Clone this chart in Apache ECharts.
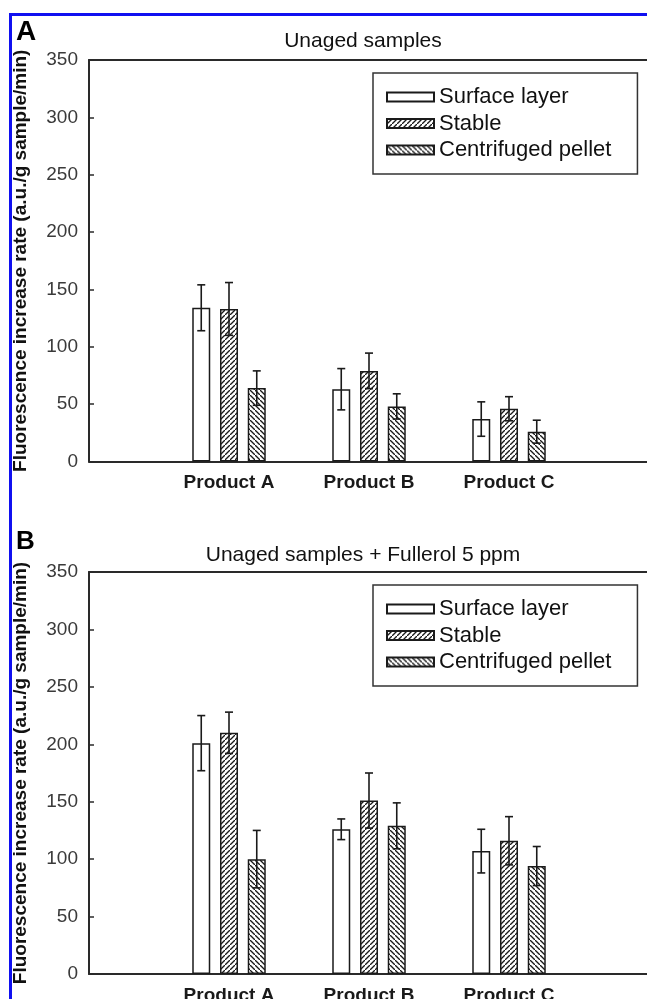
<!DOCTYPE html>
<html>
<head>
<meta charset="utf-8">
<script src="https://cdn.jsdelivr.net/npm/echarts@6/dist/echarts.min.js"></script>
<style>
html,body{margin:0;padding:0;background:#fff;}
#chart{width:647px;height:999px;}
</style>
</head>
<body>
<div id="chart"></div>
<script>
// ---------- data ----------
const categories = ['Product A', 'Product B', 'Product C'];
const seriesNames = ['Surface layer', 'Stable', 'Centrifuged pellet'];
const yTicks = [0, 50, 100, 150, 200, 250, 300, 350];

// Panel A: Unaged samples
const aSurface = [134, 63, 37];
const aSurfaceErr = [20, 18, 15];
const aStable = [133, 79, 46];
const aStableErr = [23, 15.5, 10.5];
const aPellet = [64, 48, 26];
const aPelletErr = [15, 11, 10];

// Panel B: Unaged samples + Fullerol 5 ppm
const bSurface = [201, 126, 107];
const bSurfaceErr = [24, 9, 19];
const bStable = [210, 151, 116];
const bStableErr = [18, 24, 21];
const bPellet = [100, 129, 94];
const bPelletErr = [25, 20, 17];

const titleA = 'Unaged samples';
const titleB = 'Unaged samples + Fullerol 5 ppm';
const yName = 'Fluorescence increase rate (a.u./g sample/min)';

// ---------- styling helpers ----------
const FONT = '"Liberation Sans", Arial, sans-serif';
function hatch(dir) {
  const s = 5;
  const c = document.createElement('canvas');
  c.width = s; c.height = s;
  const g = c.getContext('2d');
  g.fillStyle = '#ffffff';
  g.fillRect(0, 0, s, s);
  g.strokeStyle = '#1a1a1a';
  g.lineWidth = 1.35;
  g.beginPath();
  if (dir > 0) {
    g.moveTo(-1, s + 1); g.lineTo(s + 1, -1);
    g.moveTo(-2, 1); g.lineTo(1, -2);
    g.moveTo(s - 1, s + 2); g.lineTo(s + 2, s - 1);
  } else {
    g.moveTo(-1, -1); g.lineTo(s + 1, s + 1);
    g.moveTo(-2, s - 1); g.lineTo(1, s + 2);
    g.moveTo(s - 1, -2); g.lineTo(s + 2, 1);
  }
  g.stroke();
  return c;
}
const fills = [
  '#ffffff',
  { image: hatch(1), repeat: 'repeat' },
  { image: hatch(-1), repeat: 'repeat' }
];

const BAR_W = 18;
const BAR_GAP = 9.75;
const offsets = [-(BAR_W + BAR_GAP), 0, BAR_W + BAR_GAP];

const xCats = [''].concat(categories, ['']);
function pad(arr) { return ['-'].concat(arr, ['-']); }
function errData(vals, errs) {
  return vals.map((v, i) => [i + 1, v - errs[i], v + errs[i]]);
}

function panelSeries(gridIdx, vals, errs) {
  const out = [];
  for (let k = 0; k < 3; k++) {
    out.push({
      type: 'bar',
      name: seriesNames[k],
      xAxisIndex: gridIdx, yAxisIndex: gridIdx,
      data: pad(vals[k]),
      barWidth: BAR_W,
      barGap: (BAR_GAP / BAR_W * 100) + '%',
      itemStyle: { color: fills[k], borderColor: '#1a1a1a', borderWidth: 1.5 },
      emphasis: { disabled: true },
      animation: false,
      z: 2
    });
  }
  for (let k = 0; k < 3; k++) {
    const off = offsets[k];
    out.push({
      type: 'custom',
      name: 'err' + gridIdx + k,
      xAxisIndex: gridIdx, yAxisIndex: gridIdx,
      data: errData(vals[k], errs[k]),
      encode: { x: 0, y: [1, 2] },
      animation: false,
      z: 5,
      renderItem: function (params, api) {
        const lo = api.coord([api.value(0), api.value(1)]);
        const hi = api.coord([api.value(0), api.value(2)]);
        const x = lo[0] + off;
        const cap = 4;
        const st = { stroke: '#1a1a1a', lineWidth: 1.6, fill: null };
        return {
          type: 'group',
          children: [
            { type: 'line', shape: { x1: x, y1: lo[1], x2: x, y2: hi[1] }, style: st },
            { type: 'line', shape: { x1: x - cap, y1: hi[1], x2: x + cap, y2: hi[1] }, style: st },
            { type: 'line', shape: { x1: x - cap, y1: lo[1], x2: x + cap, y2: lo[1] }, style: st }
          ]
        };
      }
    });
  }
  return out;
}

const grids = [
  { left: 89, top: 60, width: 560, height: 401.5 },
  { left: 89, top: 572, width: 560, height: 402 }
];

function xAxisFor(i) {
  return {
    type: 'category', gridIndex: i, data: xCats, boundaryGap: false, position: 'bottom',
    axisLine: { show: true, onZero: false, lineStyle: { color: '#2a2a2a', width: 2 } },
    axisTick: { show: false },
    axisLabel: { interval: 0, margin: 12, fontFamily: FONT, fontSize: 19, fontWeight: 'bold', color: '#1a1a1a' },
    splitLine: { show: false }
  };
}
function xTopFor(i) {
  return {
    type: 'category', gridIndex: i, data: xCats, boundaryGap: false, position: 'top',
    axisLine: { show: true, onZero: false, lineStyle: { color: '#2a2a2a', width: 2 } },
    axisTick: { show: false },
    axisLabel: { show: false },
    splitLine: { show: false }
  };
}
function yAxisFor(i) {
  return {
    type: 'value', gridIndex: i, min: yTicks[0], max: yTicks[yTicks.length - 1], interval: 50,
    name: yName, nameLocation: 'middle', nameGap: 59, nameRotate: 90,
    nameTextStyle: { fontFamily: FONT, fontSize: 19, fontWeight: 'bold', color: '#111' },
    axisLine: { show: true, lineStyle: { color: '#2a2a2a', width: 2 } },
    axisTick: { show: true, inside: true, length: 5, lineStyle: { color: '#2a2a2a', width: 1.5 } },
    axisLabel: { margin: 11, fontFamily: FONT, fontSize: 19, color: '#3a3a3a' },
    splitLine: { show: false }
  };
}
function legendFor(i) {
  return {
    left: 373, top: grids[i].top + 13,
    orient: 'vertical',
    data: seriesNames,
    icon: 'rect',
    itemWidth: 47, itemHeight: 9, itemGap: 4.5, itemTextGap: 14,
    selectedMode: false,
    padding: [13, 26, 13, 13],
    borderColor: '#333', borderWidth: 1.5, backgroundColor: '#fff',
    textStyle: { fontFamily: FONT, fontSize: 22, color: '#111', lineHeight: 22 }
  };
}

const option = {
  animation: false,
  backgroundColor: '#ffffff',
  textStyle: { fontFamily: FONT },
  title: [
    { text: titleA, left: 358, top: 26, textAlign: 'center', textStyle: { fontFamily: FONT, fontSize: 21, fontWeight: 'normal', color: '#111' } },
    { text: titleB, left: 358, top: 540, textAlign: 'center', textStyle: { fontFamily: FONT, fontSize: 21, fontWeight: 'normal', color: '#111' } },
    { text: 'A', left: 11, top: 13, textStyle: { fontFamily: FONT, fontSize: 28, fontWeight: 'bold', color: '#000' } },
    { text: 'B', left: 11, top: 524, textStyle: { fontFamily: FONT, fontSize: 26, fontWeight: 'bold', color: '#000' } }
  ],
  grid: grids.map(g => Object.assign({ show: false, outerBoundsMode: 'none', containLabel: false }, g)),
  xAxis: [xAxisFor(0), xAxisFor(1), xTopFor(0), xTopFor(1)],
  yAxis: [yAxisFor(0), yAxisFor(1)],
  legend: [legendFor(0), legendFor(1)],
  graphic: [
    { type: 'rect', shape: { x: 10.5, y: 14.5, width: 800, height: 1200 }, style: { fill: null, stroke: '#1010f0', lineWidth: 3 }, z: 100, silent: true }
  ],
  series: [].concat(
    panelSeries(0, [aSurface, aStable, aPellet], [aSurfaceErr, aStableErr, aPelletErr]),
    panelSeries(1, [bSurface, bStable, bPellet], [bSurfaceErr, bStableErr, bPelletErr])
  )
};

const chart = echarts.init(document.getElementById('chart'), null, { renderer: 'canvas' });
chart.setOption(option);
</script>
</body>
</html>
